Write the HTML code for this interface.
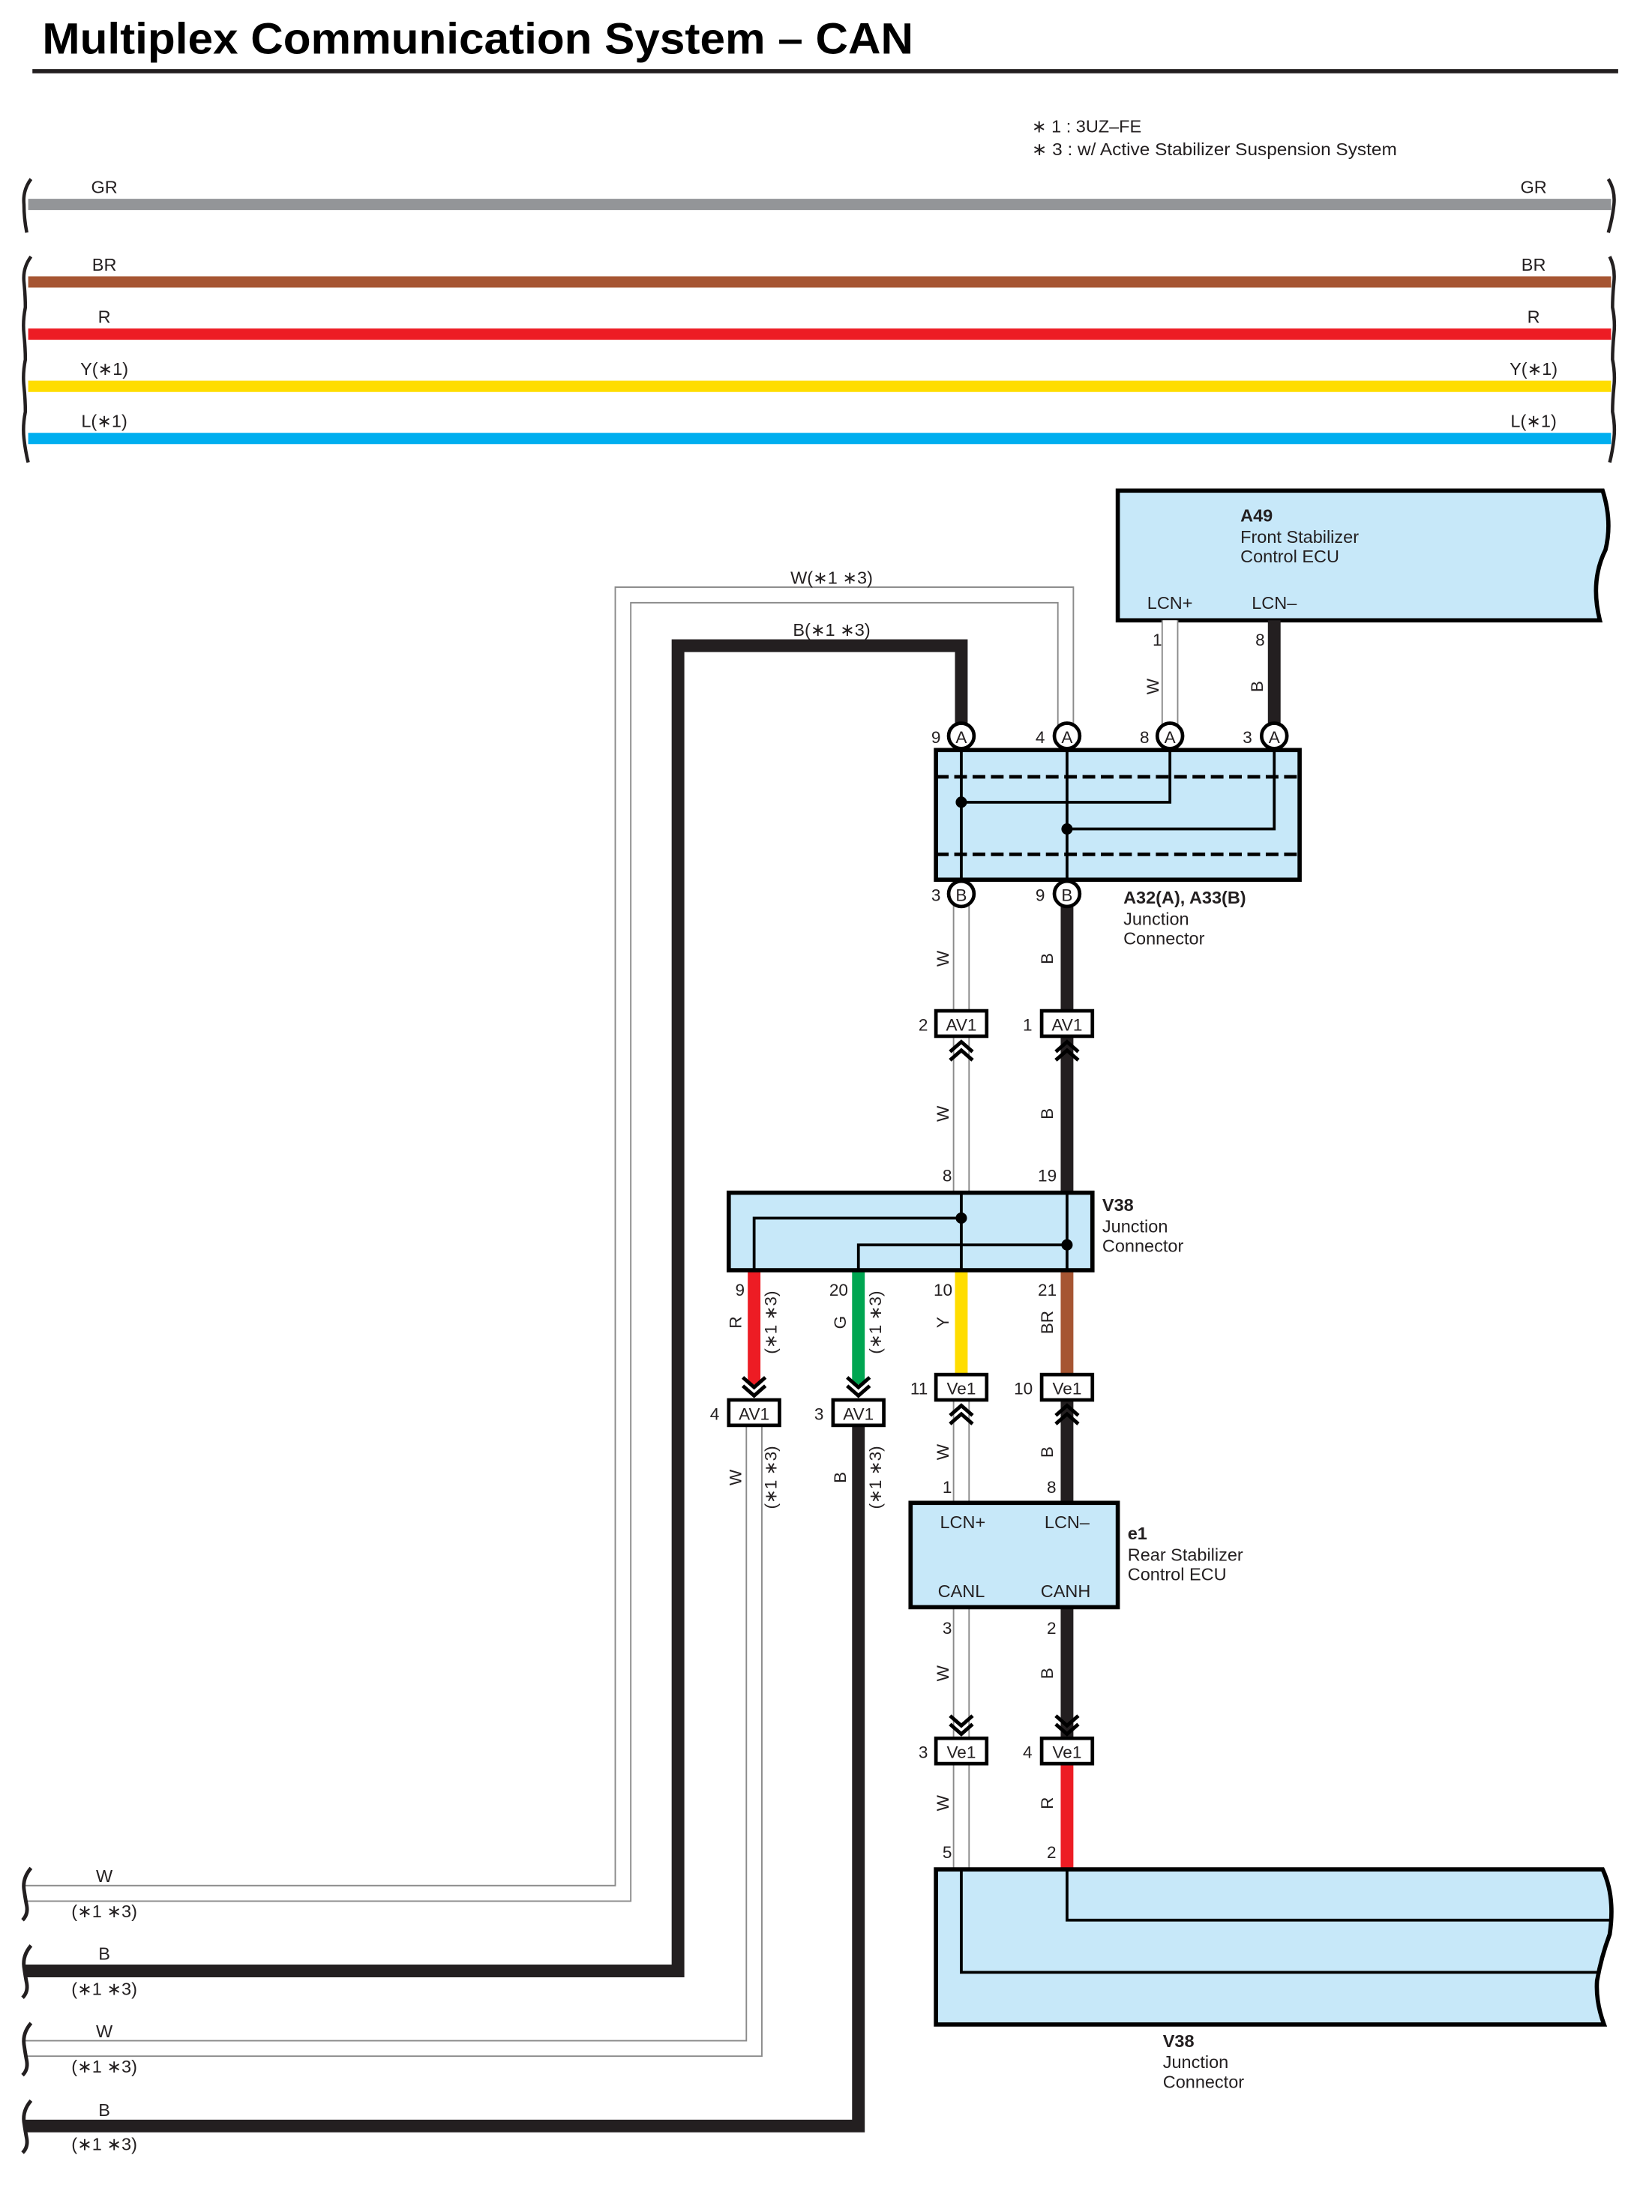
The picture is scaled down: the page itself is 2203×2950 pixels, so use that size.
<!DOCTYPE html>
<html><head><meta charset="utf-8"><style>
html,body{margin:0;padding:0;background:#fff;}
svg{display:block;}
text{font-family:"Liberation Sans",sans-serif;fill:#231f20;}
</style></head><body>
<svg width="2203" height="2950" viewBox="0 0 1172 1569" preserveAspectRatio="none" xmlns="http://www.w3.org/2000/svg">
<defs>
<g id="dch"><polyline points="-8,-13 0,-6 8,-13" fill="none" stroke="#000" stroke-width="2.6"/><polyline points="-8,-7 0,0 8,-7" fill="none" stroke="#000" stroke-width="2.6"/></g>
<g id="uch"><polyline points="-8,13 0,6 8,13" fill="none" stroke="#000" stroke-width="2.6"/><polyline points="-8,7 0,0 8,7" fill="none" stroke="#000" stroke-width="2.6"/></g>
</defs>
<text x="30" y="38" font-size="31" font-weight="bold" textLength="618" lengthAdjust="spacingAndGlyphs" style="fill:#000">Multiplex Communication System – CAN</text>
<rect x="23" y="49" width="1125" height="3" fill="#231f20"/>
<text x="732" y="94" font-size="12.5">∗ 1 : 3UZ–FE</text>
<text x="732" y="110" font-size="12.5" textLength="259" lengthAdjust="spacingAndGlyphs">∗ 3 : w/ Active Stabilizer Suspension System</text>

<g stroke-width="8">
<line x1="20" y1="145" x2="1143" y2="145" stroke="#939598"/>
<line x1="20" y1="200" x2="1143" y2="200" stroke="#a65532"/>
<line x1="20" y1="237" x2="1143" y2="237" stroke="#ed1c24"/>
<line x1="20" y1="274" x2="1143" y2="274" stroke="#ffdd00"/>
<line x1="20" y1="311" x2="1143" y2="311" stroke="#00aeef"/>
</g>
<g font-size="12.5" text-anchor="middle">
<text x="74" y="137">GR</text><text x="1088" y="137">GR</text>
<text x="74" y="192">BR</text><text x="1088" y="192">BR</text>
<text x="74" y="229">R</text><text x="1088" y="229">R</text>
<text x="74" y="266">Y(∗1)</text><text x="1088" y="266">Y(∗1)</text>
<text x="74" y="303">L(∗1)</text><text x="1088" y="303">L(∗1)</text>
</g>
<g fill="none" stroke="#231f20" stroke-width="2.4">
<path d="M22,127 Q16,135 17,145 Q17,155 19,165"/>
<path d="M1141,127 Q1146,135 1145,145 Q1144,155 1141,165"/>
<path d="M22,182 Q16,190 17,200 Q18,210 18,218 Q16,228 17,237 Q18,247 18,255 Q16,265 17,274 Q18,284 18,292 Q16,302 17,311 Q18,320 20,328"/>
<path d="M1142,182 Q1146,190 1145,200 Q1144,210 1144,218 Q1146,228 1145,237 Q1144,247 1144,255 Q1146,265 1145,274 Q1144,284 1144,292 Q1146,302 1145,311 Q1144,320 1142,328"/>
</g>

<path d="M793,348 H1137 Q1144,370 1139,390 Q1128,412 1135,440 H793 Z" fill="#c7e8f9" stroke="#000" stroke-width="3"/>
<text x="880" y="370" font-size="12.5" font-weight="bold">A49</text>
<text x="880" y="385" font-size="12.5">Front Stabilizer</text>
<text x="880" y="399" font-size="12.5">Control ECU</text>
<text x="830" y="432" font-size="12.5" text-anchor="middle">LCN+</text>
<text x="904" y="432" font-size="12.5" text-anchor="middle">LCN–</text>

<g fill="none" stroke="#8a8a8a" stroke-width="12">
<path d="M18,1343 H442 V422 H756 V522"/>
<path d="M830,440 V522"/>
<path d="M682,634 V846"/>
<path d="M18,1453 H535 V1011"/>
<path d="M682,993 V1066"/>
<path d="M682,1140 V1326"/>
</g>
<g fill="none" stroke="#fff" stroke-width="10">
<path d="M18,1343 H442 V422 H756 V522"/>
<path d="M830,440 V522"/>
<path d="M682,634 V846"/>
<path d="M18,1453 H535 V1011"/>
<path d="M682,993 V1066"/>
<path d="M682,1140 V1326"/>
</g>
<g fill="none" stroke="#231f20" stroke-width="9">
<path d="M18,1398 H481 V458 H682 V522"/>
<path d="M904,440 V522"/>
<path d="M757,634 V846"/>
<path d="M18,1508 H609 V1011"/>
<path d="M757,993 V1066"/>
<path d="M757,1140 V1233"/>
</g>
<g stroke-width="9">
<line x1="535" y1="901" x2="535" y2="982" stroke="#ed1c24"/>
<line x1="609" y1="901" x2="609" y2="982" stroke="#00a651"/>
<line x1="682" y1="901" x2="682" y2="975" stroke="#ffdd00"/>
<line x1="757" y1="901" x2="757" y2="975" stroke="#a65532"/>
<line x1="757" y1="1251" x2="757" y2="1326" stroke="#ed1c24"/>
</g>
<text x="590" y="414" font-size="12.5" text-anchor="middle">W(∗1 ∗3)</text>
<text x="590" y="451" font-size="12.5" text-anchor="middle">B(∗1 ∗3)</text>

<rect x="664" y="532" width="258" height="92" fill="#c7e8f9" stroke="#000" stroke-width="3"/>
<g stroke="#000" stroke-width="2.5" stroke-dasharray="9,4"><line x1="664" y1="551" x2="922" y2="551"/><line x1="664" y1="606" x2="922" y2="606"/></g>
<g fill="none" stroke="#000" stroke-width="2">
<line x1="682" y1="532" x2="682" y2="624"/><line x1="757" y1="532" x2="757" y2="624"/>
<polyline points="830,532 830,569 682,569"/><polyline points="904,532 904,588 757,588"/>
</g>
<circle cx="682" cy="569" r="4"/><circle cx="757" cy="588" r="4"/>
<g stroke="#000" stroke-width="2.5" fill="#fff">
<circle cx="682" cy="522" r="9"/><circle cx="757" cy="522" r="9"/><circle cx="830" cy="522" r="9"/><circle cx="904" cy="522" r="9"/>
<circle cx="682" cy="634" r="9"/><circle cx="757" cy="634" r="9"/>
</g>
<g font-size="12" text-anchor="middle">
<text x="682" y="527">A</text><text x="757" y="527">A</text><text x="830" y="527">A</text><text x="904" y="527">A</text>
<text x="682" y="639">B</text><text x="757" y="639">B</text>
<text x="664" y="527">9</text><text x="738" y="527">4</text><text x="812" y="527">8</text><text x="885" y="527">3</text>
<text x="664" y="639">3</text><text x="738" y="639">9</text>
<text x="821" y="458">1</text><text x="894" y="458">8</text>
<text x="672" y="838">8</text><text x="743" y="838">19</text>
<text x="525" y="919">9</text><text x="595" y="919">20</text><text x="669" y="919">10</text><text x="743" y="919">21</text>
<text x="672" y="1059">1</text><text x="746" y="1059">8</text>
<text x="672" y="1159">3</text><text x="746" y="1159">2</text>
<text x="672" y="1318">5</text><text x="746" y="1318">2</text>
<text x="655" y="731">2</text><text x="729" y="731">1</text>
<text x="652" y="989">11</text><text x="726" y="989">10</text>
<text x="507" y="1007">4</text><text x="581" y="1007">3</text>
<text x="655" y="1247">3</text><text x="729" y="1247">4</text>
</g>
<text x="797" y="641" font-size="12.5" font-weight="bold">A32(A), A33(B)</text>
<text x="797" y="656" font-size="12.5">Junction</text>
<text x="797" y="670" font-size="12.5">Connector</text>

<g font-size="12" text-anchor="middle">
<text transform="translate(673,680) rotate(-90)">W</text>
<text transform="translate(747,680) rotate(-90)">B</text>
<text transform="translate(673,790) rotate(-90)">W</text>
<text transform="translate(747,790) rotate(-90)">B</text>
<text transform="translate(822,487) rotate(-90)">W</text>
<text transform="translate(896,487) rotate(-90)">B</text>
<text transform="translate(526,938) rotate(-90)">R</text>
<text transform="translate(551,938) rotate(-90)">(∗1 ∗3)</text>
<text transform="translate(600,938) rotate(-90)">G</text>
<text transform="translate(625,938) rotate(-90)">(∗1 ∗3)</text>
<text transform="translate(673,938) rotate(-90)">Y</text>
<text transform="translate(747,938) rotate(-90)">BR</text>
<text transform="translate(526,1048) rotate(-90)">W</text>
<text transform="translate(551,1048) rotate(-90)">(∗1 ∗3)</text>
<text transform="translate(600,1048) rotate(-90)">B</text>
<text transform="translate(625,1048) rotate(-90)">(∗1 ∗3)</text>
<text transform="translate(673,1030) rotate(-90)">W</text>
<text transform="translate(747,1030) rotate(-90)">B</text>
<text transform="translate(673,1187) rotate(-90)">W</text>
<text transform="translate(747,1187) rotate(-90)">B</text>
<text transform="translate(673,1279) rotate(-90)">W</text>
<text transform="translate(747,1279) rotate(-90)">R</text>
</g>

<g stroke="#000" stroke-width="2.5" fill="#fff">
<rect x="664" y="717" width="36" height="18"/><rect x="739" y="717" width="36" height="18"/>
<rect x="517" y="993" width="36" height="18"/><rect x="591" y="993" width="36" height="18"/>
<rect x="664" y="975" width="36" height="18"/><rect x="739" y="975" width="36" height="18"/>
<rect x="664" y="1233" width="36" height="18"/><rect x="739" y="1233" width="36" height="18"/>
</g>
<g font-size="12" text-anchor="middle">
<text x="682" y="731">AV1</text><text x="757" y="731">AV1</text>
<text x="535" y="1007">AV1</text><text x="609" y="1007">AV1</text>
<text x="682" y="989">Ve1</text><text x="757" y="989">Ve1</text>
<text x="682" y="1247">Ve1</text><text x="757" y="1247">Ve1</text>
</g>
<use href="#uch" x="682" y="739"/><use href="#uch" x="757" y="739"/>
<use href="#dch" x="535" y="990"/><use href="#dch" x="609" y="990"/>
<use href="#uch" x="682" y="997"/><use href="#uch" x="757" y="997"/>
<use href="#dch" x="682" y="1230"/><use href="#dch" x="757" y="1230"/>

<rect x="517" y="846" width="258" height="55" fill="#c7e8f9" stroke="#000" stroke-width="3"/>
<g fill="none" stroke="#000" stroke-width="2">
<line x1="682" y1="846" x2="682" y2="901"/><line x1="757" y1="846" x2="757" y2="901"/>
<polyline points="682,864 535,864 535,901"/><polyline points="757,883 609,883 609,901"/>
</g>
<circle cx="682" cy="864" r="4"/><circle cx="757" cy="883" r="4"/>
<text x="782" y="859" font-size="12.5" font-weight="bold">V38</text>
<text x="782" y="874" font-size="12.5">Junction</text>
<text x="782" y="888" font-size="12.5">Connector</text>

<rect x="646" y="1066" width="147" height="74" fill="#c7e8f9" stroke="#000" stroke-width="3"/>
<g font-size="12.5" text-anchor="middle">
<text x="683" y="1084">LCN+</text><text x="757" y="1084">LCN–</text>
<text x="682" y="1133">CANL</text><text x="756" y="1133">CANH</text>
</g>
<text x="800" y="1092" font-size="12.5" font-weight="bold">e1</text>
<text x="800" y="1107" font-size="12.5">Rear Stabilizer</text>
<text x="800" y="1121" font-size="12.5">Control ECU</text>

<path d="M664,1326 H1137 Q1146,1345 1142,1372 Q1136,1388 1133,1405 Q1132,1420 1138,1436 H664 Z" fill="#c7e8f9" stroke="#000" stroke-width="3"/>
<g fill="none" stroke="#000" stroke-width="2">
<polyline points="757,1326 757,1362 1143,1362"/><polyline points="682,1326 682,1399 1134,1399"/>
</g>
<text x="825" y="1452" font-size="12.5" font-weight="bold">V38</text>
<text x="825" y="1467" font-size="12.5">Junction</text>
<text x="825" y="1481" font-size="12.5">Connector</text>

<g font-size="12.5" text-anchor="middle">
<text x="74" y="1335">W</text><text x="74" y="1360">(∗1 ∗3)</text>
<text x="74" y="1390">B</text><text x="74" y="1415">(∗1 ∗3)</text>
<text x="74" y="1445">W</text><text x="74" y="1470">(∗1 ∗3)</text>
<text x="74" y="1501">B</text><text x="74" y="1525">(∗1 ∗3)</text>
</g>
<g fill="none" stroke="#231f20" stroke-width="2.6">
<path d="M22,1325 Q16,1332 17,1340 Q18,1347 19,1352 Q20,1358 16,1362"/>
<path d="M22,1380 Q16,1387 17,1395 Q18,1402 19,1407 Q20,1413 16,1417"/>
<path d="M22,1435 Q16,1442 17,1450 Q18,1457 19,1462 Q20,1468 16,1472"/>
<path d="M22,1490 Q16,1497 17,1505 Q18,1512 19,1517 Q20,1523 16,1527"/>
</g>
</svg>
</body></html>
